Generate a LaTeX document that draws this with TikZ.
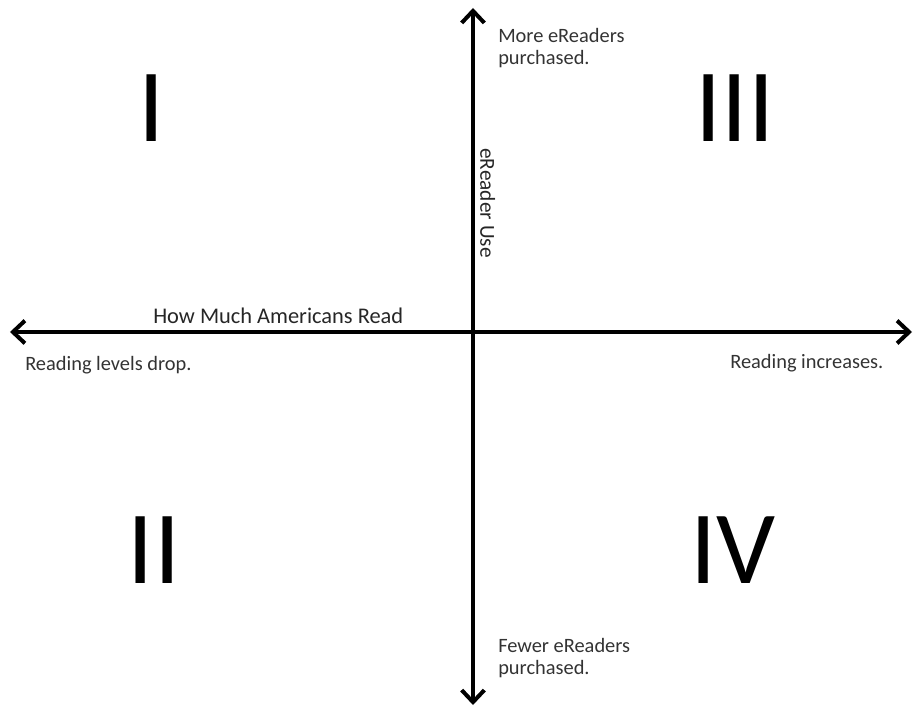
\documentclass[tikz,border=0pt]{standalone}
\usepackage{fontspec}
\setmainfont{Carlito}
\usetikzlibrary{arrows.meta, positioning}

\begin{document}
\begin{tikzpicture}[
    x=0.75pt, y=-0.75pt,
    axis/.style={line width=3pt, {Straight Barb[length=9pt, width=17pt]}-{Straight Barb[length=9pt, width=17pt]}},
    numeral/.style={anchor=base, inner sep=0pt, font=\fontsize{78pt}{80pt}\selectfont},
    label/.style={anchor=base west, inner sep=0pt, align=left, font=\fontsize{15.3pt}{16.5pt}\selectfont, text=black!80},
    title/.style={anchor=base west, inner sep=0pt, font=\fontsize{16.8pt}{19pt}\selectfont, text=black!85}
]

\useasboundingbox (0,0) rectangle (915,709);

% Axis end points
\coordinate (top) at (473,8);
\coordinate (bottom) at (473,705);
\coordinate (left) at (10,332);
\coordinate (right) at (912,332);

% Axes
\draw[axis] (bottom) -- (top);
\draw[axis] (left) -- (right);

% Quadrant numerals
\node[numeral] (quadI) at (152,142) {I};
\node[numeral] (quadIII) at (735,142) {III};
\node[numeral] (quadII) at (154,583) {II};
\node[numeral] (quadIV) at (733,583) {IV};

% Axis labels
\node[title] (xtitle) at (153,324) {How Much Americans Read};
\node[title, anchor=south, rotate=-90, font=\fontsize{16pt}{19pt}\selectfont] (ytitle) at (480,203) {eReader Use};
\node[label] (more) at (498,65) {More eReaders\\purchased.};
\node[label] (fewer) at (498,674) {Fewer eReaders\\purchased.};
\node[label] (drop) at (25,371) {Reading levels drop.};
\node[label] (increase) at (730,369) {Reading increases.};

\end{tikzpicture}
\end{document}
